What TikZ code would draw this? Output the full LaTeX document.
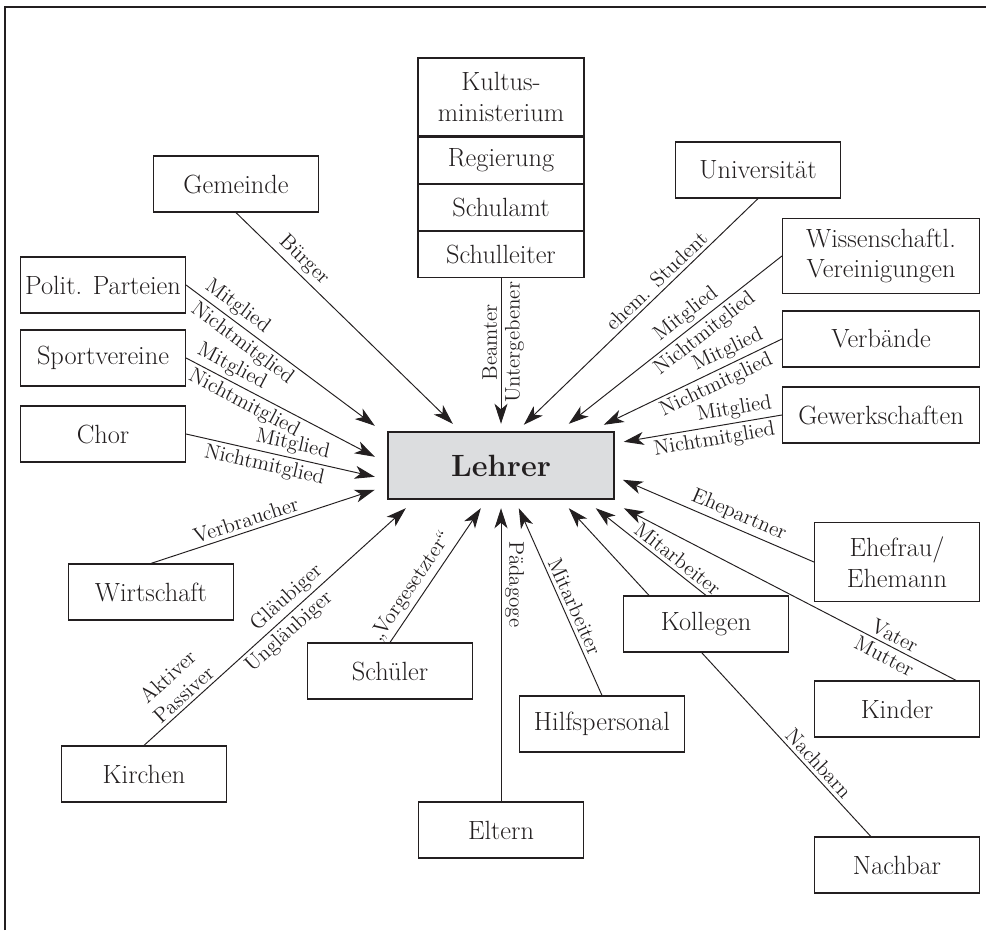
\documentclass[tikz,border=0pt]{standalone}
\usetikzlibrary{arrows.meta,calc,positioning}
\definecolor{ink}{RGB}{35,31,32}
\definecolor{boxgray}{RGB}{220,221,223}

\begin{document}
\begin{tikzpicture}[x=0.02cm,y=-0.02cm,
    box/.style={draw=ink,line width=0.7pt,fill=white,text=ink,minimum width=3.3cm,minimum height=1.12cm,
      align=center,inner sep=2pt,font=\fontsize{15}{17.5}\selectfont},
    widebox/.style={box,minimum width=3.94cm},
    cell/.style={box,minimum width=3.32cm,minimum height=0.92cm},
    rel/.style={draw=ink,line width=0.55pt,-{Stealth[length=4mm,width=2.6mm,inset=1.1mm]}},
    tag/.style={text=ink,inner sep=2pt,font=\fontsize{12}{13.5}\selectfont},
    lbl/.style={tag,sloped}]
    \useasboundingbox (0,0) rectangle (986,930);
    \draw[ink,line width=0.6pt] (5,930) -- (5,7) -- (986,7);

    \node[box,fill=boxgray,line width=1.4pt,minimum width=4.52cm,minimum height=1.34cm,
      font=\fontsize{17.5}{20}\selectfont\bfseries] (lehrer) at (501,465.5) {Lehrer};

    % Nachbar runs behind Kollegen
    \node[box] (nachbar) at (897,865) {Nachbar};
    \draw[rel] (nachbar) -- node[lbl,above,pos=0.2]{Nachbarn} ($(lehrer.south west)+(182,8)$);

    \node[cell,minimum height=1.56cm] (kultus) at (501,97) {Kultus-\\ministerium};
    \node[cell,below=0pt of kultus] (regierung) {Regierung};
    \node[cell,below=0pt of regierung] (schulamt) {Schulamt};
    \node[cell,below=0pt of schulamt] (schulleiter) {Schulleiter};

    \node[box] (gemeinde) at (236,184) {Gemeinde};
    \node[box] (parteien) at (103,285) {Polit. Parteien};
    \node[box] (sport) at (103,358) {Sportvereine};
    \node[box] (chor) at (103,434) {Chor};
    \node[box] (wirtschaft) at (151,592) {Wirtschaft};
    \node[box] (kirchen) at (144,774) {Kirchen};
    \node[box] (schueler) at (390,671) {Schüler};
    \node[box] (eltern) at (501,830) {Eltern};
    \node[box] (hilfe) at (602,724) {Hilfspersonal};
    \node[box] (kollegen) at (706,624) {Kollegen};
    \node[box] (kinder) at (897,709) {Kinder};
    \node[box,minimum height=1.58cm] (ehe) at (897,562) {Ehefrau/\\Ehemann};
    \node[widebox] (gewerk) at (881,415) {Gewerkschaften};
    \node[widebox] (verband) at (881,339) {Verbände};
    \node[widebox,minimum height=1.5cm] (wiss) at (881,256) {Wissenschaftl.\\Vereinigungen};
    \node[box] (uni) at (758,170) {Universität};

    \draw[rel] (schulleiter.south) --
      node[tag,pos=0.44,anchor=south,rotate=90]{Beamter}
      node[tag,pos=0.44,anchor=north,rotate=90]{Untergebener} ($(lehrer.north)+(0,-7)$);
    \draw[rel] (gemeinde.south) -- node[lbl,above,pos=0.27]{Bürger} ($(lehrer.north west)+(66,-7)$);
    \draw[rel] (parteien.east) -- node[lbl,above,pos=0.23]{Mitglied}
      node[lbl,below,pos=0.34]{Nichtmitglied} ($(lehrer.north west)+(-12,-5)$);
    \draw[rel] (sport.east) -- node[lbl,above,pos=0.21]{Mitglied}
      node[lbl,below,pos=0.34]{Nichtmitglied} ($(lehrer.north west)+(-12,26)$);
    \draw[rel] (chor.east) -- node[lbl,above,pos=0.55]{Mitglied}
      node[lbl,below,pos=0.43]{Nichtmitglied} ($(lehrer.north west)+(-12,46)$);
    \draw[rel] (wirtschaft.north) -- node[lbl,above,pos=0.44]{Verbraucher} ($(lehrer.north west)+(-12,59)$);
    \draw[rel] (kirchen.north) -- node[lbl,above,pos=0.18,align=center]{Aktiver\\Passiver}
      node[lbl,above,pos=0.58]{Gläubiger}
      node[lbl,below,pos=0.52]{Ungläubiger} ($(lehrer.south west)+(19,8)$);
    \draw[rel] (schueler.north) -- node[lbl,above,pos=0.36]{„Vorgesetzter“} ($(lehrer.south west)+(94,8)$);
    \draw[rel] (eltern.north) -- node[tag,pos=0.74,anchor=south,rotate=-90]{Pädagoge} ($(lehrer.south)+(0,8)$);
    \draw[rel] (hilfe.north) -- node[lbl,above,pos=0.45]{Mitarbeiter} ($(lehrer.south west)+(132,8)$);
    \draw[rel] (kollegen.north) -- node[lbl,above,pos=0.32]{Mitarbeiter} ($(lehrer.south west)+(209,8)$);
    \draw[rel] ([xshift=-0.48cm]kinder.north east) -- node[lbl,above,pos=0.2]{Vater}
      node[lbl,below,pos=0.2]{Mutter} ($(lehrer.south west)+(237,8)$);
    \draw[rel] (ehe.west) -- node[lbl,above,pos=0.42]{Ehepartner} ($(lehrer.north west)+(236,49)$);
    \draw[rel] (gewerk.west) -- node[lbl,above,pos=0.285]{Mitglied}
      node[lbl,below,pos=0.44]{Nichtmitglied} ($(lehrer.north west)+(237,11)$);
    \draw[rel] (verband.west) -- node[lbl,above,pos=0.27]{Mitglied}
      node[lbl,below,pos=0.4]{Nichtmitglied} ($(lehrer.north west)+(217,-6)$);
    \draw[rel] (wiss.west) -- node[lbl,above,pos=0.41]{Mitglied}
      node[lbl,below,pos=0.4]{Nichtmitglied} ($(lehrer.north west)+(182,-7)$);
    \draw[rel] (uni.south) -- node[lbl,above,pos=0.4]{ehem. Student} ($(lehrer.north west)+(137,-6)$);
  \end{tikzpicture}
\end{document}
